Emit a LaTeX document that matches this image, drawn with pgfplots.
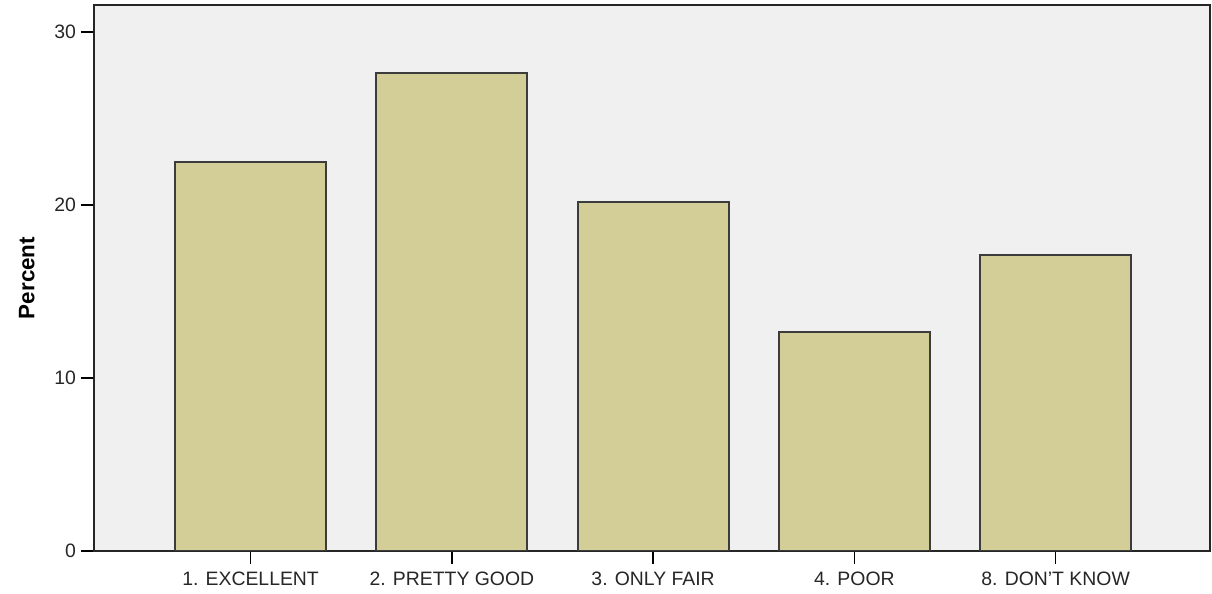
\documentclass[border=0pt]{standalone}
\usepackage{pgfplots}
\pgfplotsset{compat=1.18}
\usepackage{fontspec}
\setmainfont{Liberation Sans}
\definecolor{barfill}{HTML}{D3CE97}
\definecolor{baredge}{HTML}{3C3C3C}
\definecolor{plotbg}{HTML}{F0F0F0}
\begin{document}
\begin{tikzpicture}
\useasboundingbox (-47pt,-21.5pt) rectangle (559pt,275.5pt);
\begin{axis}[
  at={(0,0)}, anchor=south west,
  scale only axis,
  width=558pt, height=273pt,
  xmin=-0.778, xmax=4.767,
  ymin=0, ymax=31.56,
  axis background/.style={fill=plotbg},
  axis line style={black!85, line width=0.8pt},
  ytick={0,10,20,30},
  xtick={0,1,2,3,4},
  xticklabels={1. EXCELLENT,2. PRETTY GOOD,3. ONLY FAIR,4. POOR,8. DON'T KNOW},
  tick style={black, line width=0.8pt},
  major tick length=6.5pt,
  tick align=outside,
  xtick pos=bottom, ytick pos=left,
  ticklabel style={font=\fontsize{9.7}{11}\selectfont, text=black!85},
  /pgf/number format/assume math mode=true,
  xticklabel style={yshift=-0.5pt},
  yticklabel style={xshift=1pt},
  ylabel={\textbf{Percent}},
  ylabel style={font=\fontsize{11.2}{13}\selectfont, at={(ticklabel cs:0.5)}, anchor=south, yshift=3pt},
  ybar, bar width=0.750, bar shift=0pt,
]
\addplot[fill=barfill, draw=baredge, line width=1pt] coordinates {
  (0,22.49) (1,27.63) (2,20.17) (3,12.66) (4,17.11)
};
\end{axis}
\end{tikzpicture}
\end{document}
